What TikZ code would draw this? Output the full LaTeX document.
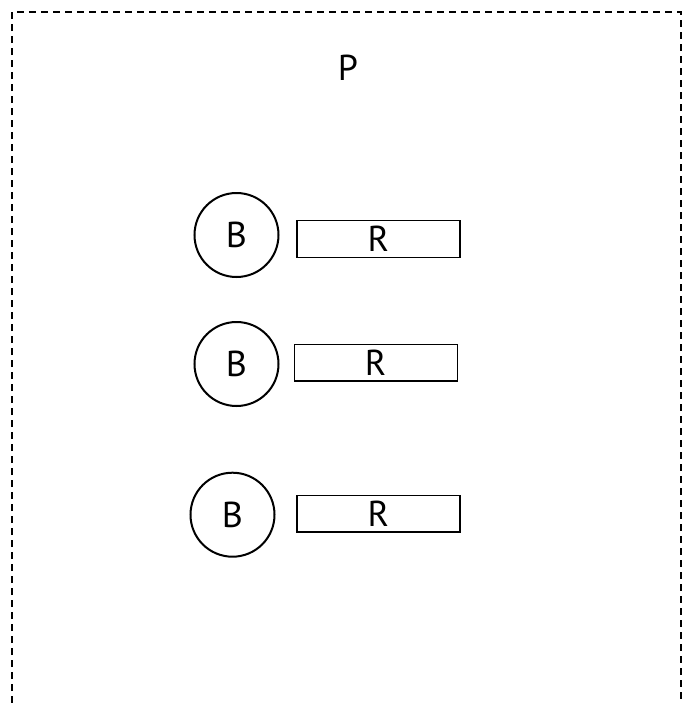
\documentclass[tikz,border=0pt]{standalone}
\usepackage{fontspec}
\setmainfont{PT Sans}
\usetikzlibrary{positioning}
\tikzset{
  ball/.style={draw,line width=1pt,circle,minimum size=42pt,inner sep=0pt,font=\fontsize{18}{21}\selectfont},
  rod/.style={draw,line width=0.7pt,rectangle,minimum width=81.5pt,minimum height=18.3pt,inner sep=0pt,font=\fontsize{18}{21}\selectfont}
}
\begin{document}
\begin{tikzpicture}[x=0.5pt,y=-0.5pt]
\useasboundingbox (0,0) rectangle (691,703);

%Border
\draw [line width=1.2pt,dash pattern=on 3.5pt off 2.5pt] (12,703) -- (12,12) -- (681,12) -- (681,703);
\node (p) at (348,68) {\fontsize{18}{21}\selectfont P};

%Balls and rods
\node[ball] (b1) at (236.5,235) {B};
\node[rod] (r1) at (378.3,239) {R};
\node[ball] (b2) at (236.5,364) {B};
\node[rod] (r2) at (375.7,362.8) {R};
\node[ball] (b3) at (232.5,514.7) {B};
\node[rod] (r3) at (378.3,513.8) {R};

\end{tikzpicture}
\end{document}
